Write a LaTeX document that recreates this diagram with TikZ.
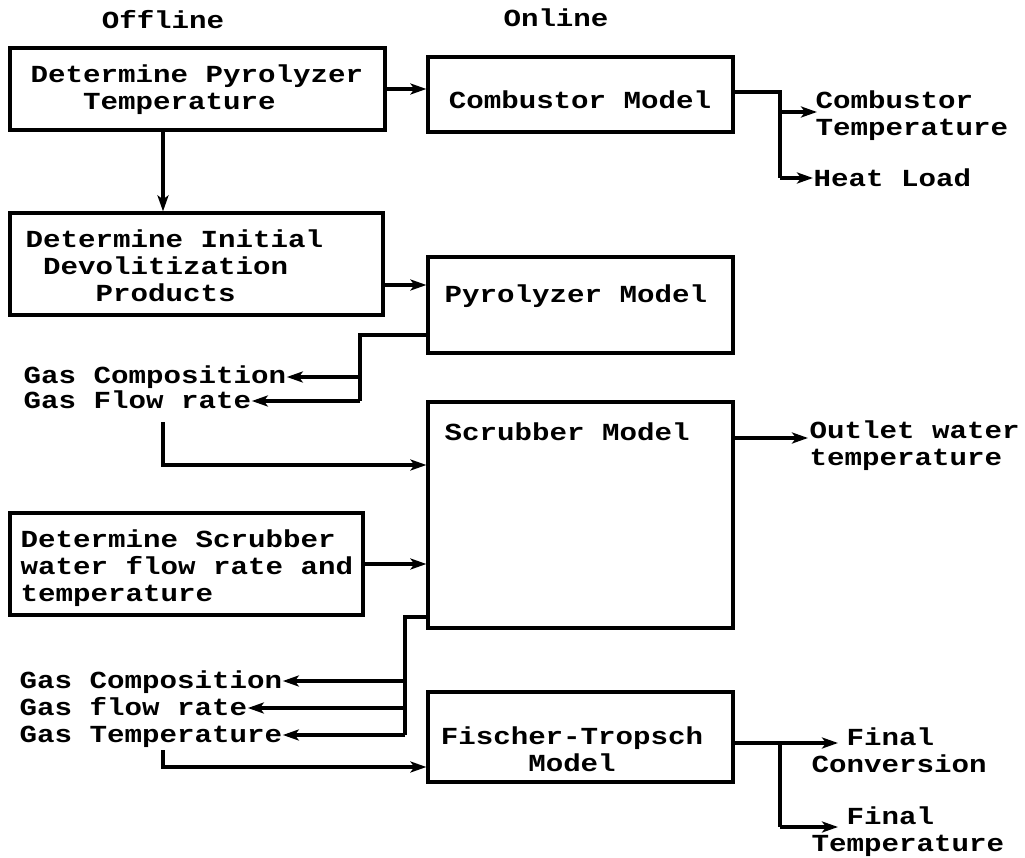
\documentclass[tikz,border=0pt]{standalone}
\usepackage{fontspec}
\newfontfamily\mono[FakeStretch=1.19]{Liberation Mono}
\usetikzlibrary{arrows.meta}
\tikzset{
  box/.style={draw, line width=3.2pt, inner sep=0pt},
  txt/.style={font=\mono\bfseries\fontsize{24.5}{27}\selectfont, inner sep=0.5pt, align=left},
  lbl/.style={txt, text height=18pt, text depth=4pt},
  wire/.style={line width=3.2pt},
  conn/.style={line width=3.2pt, -{Stealth[length=16pt,width=11pt,inset=4pt]}}
}
\begin{document}
\begin{tikzpicture}[x=1pt,y=-1pt]
\useasboundingbox (0,0) rectangle (1025,858);

% headers
\node[lbl] (hoff) at (163,22) {Offline};
\node[lbl] (hon) at (556,20) {Online};

% boxes
\node[box, minimum width=375pt, minimum height=82pt] (A) at (197.5,89) {};
\node[box, minimum width=305pt, minimum height=75pt] (B) at (580.5,94.5) {};
\node[box, minimum width=373pt, minimum height=102pt] (C) at (196.5,264) {};
\node[box, minimum width=305pt, minimum height=96pt] (D) at (580.5,305) {};
\node[box, minimum width=305pt, minimum height=226pt] (E) at (580.5,515) {};
\node[box, minimum width=353pt, minimum height=102pt] (F) at (186.5,564) {};
\node[box, minimum width=305pt, minimum height=90pt] (G) at (580.5,737) {};

% box texts
\node[txt, anchor=west] (At) at (30,90) {Determine Pyrolyzer\\\phantom{XXX}Temperature};
\node[lbl] (Bt) at (580,102) {Combustor Model};
\node[txt, anchor=west] (Ct) at (25,266) {Determine Initial\\\phantom{X}Devolitization\\\phantom{XXXX}Products};
\node[lbl, anchor=west] (Dt) at (444,296) {Pyrolyzer Model};
\node[lbl, anchor=west] (Et) at (444,433) {Scrubber Model};
\node[txt, anchor=west] (Ft) at (20,568) {Determine Scrubber\\water flow rate and\\temperature};
\node[txt, align=center] (Gt) at (572,749) {Fischer-Tropsch\\Model};

% output / intermediate labels
\node[txt, anchor=west] (oCT) at (815,116) {Combustor\\Temperature};
\node[lbl, anchor=west] (oHL) at (813,180) {Heat Load};
\node[txt, anchor=west] (oOW) at (809,446) {Outlet water\\temperature};
\node[txt, anchor=west] (oFC) at (811,750) {\phantom{XX}Final\\Conversion};
\node[txt, anchor=west] (oFT) at (811,832) {\phantom{XX}Final\\Temperature};

\node[lbl, anchor=west] (gc1) at (23,377) {Gas Composition};
\node[lbl, anchor=west] (gf1) at (23,401) {Gas Flow rate};
\node[lbl, anchor=west] (gc2) at (19,681) {Gas Composition};
\node[lbl, anchor=west] (gf2) at (19,708) {Gas flow rate};
\node[lbl, anchor=west] (gt2) at (19,735) {Gas Temperature};

% junction / free-end coordinates
\coordinate (jB) at (780,92);
\coordinate (tCT) at (817,112);
\coordinate (tHL) at (813,178);
\coordinate (jD) at (360,335);
\coordinate (s1) at (163,422);
\coordinate (tOW) at (808,438);
\coordinate (jE) at (405,617);
\coordinate (s2) at (163,750);
\coordinate (jG) at (780,743);
\coordinate (tFC) at (838,743);
\coordinate (tFT) at (838,827);

% connectors
\draw[conn] (A.east) -- (A.east -| B.west);
\draw[conn] (A.south -| s1) -- (C.north -| s1);
\draw[conn] (C.east |- 0,285) -- (D.west |- 0,285);

\draw[wire] (B.east |- jB) -- (jB) -- (jB |- tHL);
\draw[conn] (jB |- tCT) -- (tCT);
\draw[conn] (jB |- tHL) -- (tHL);

\draw[wire] (D.west |- jD) -- (jD) -- (jD |- gf1.east);
\draw[conn] (jD |- gc1.east) -- (gc1.east);
\draw[conn] (jD |- gf1.east) -- (gf1.east);

\draw[conn] (s1) -- (163,465) -- (E.west |- 0,465);
\draw[conn] (F.east) -- (F.east -| E.west);
\draw[conn] (E.east |- tOW) -- (tOW);

\draw[wire] (E.west |- jE) -- (jE) -- (jE |- gt2.east);
\draw[conn] (jE |- gc2.east) -- (gc2.east);
\draw[conn] (jE |- gf2.east) -- (gf2.east);
\draw[conn] (jE |- gt2.east) -- (gt2.east);

\draw[conn] (s2) -- (163,767) -- (G.west |- 0,767);

\draw[wire] (G.east |- jG) -- (jG) -- (jG |- tFT);
\draw[conn] (jG) -- (tFC);
\draw[conn] (jG |- tFT) -- (tFT);
\end{tikzpicture}
\end{document}
